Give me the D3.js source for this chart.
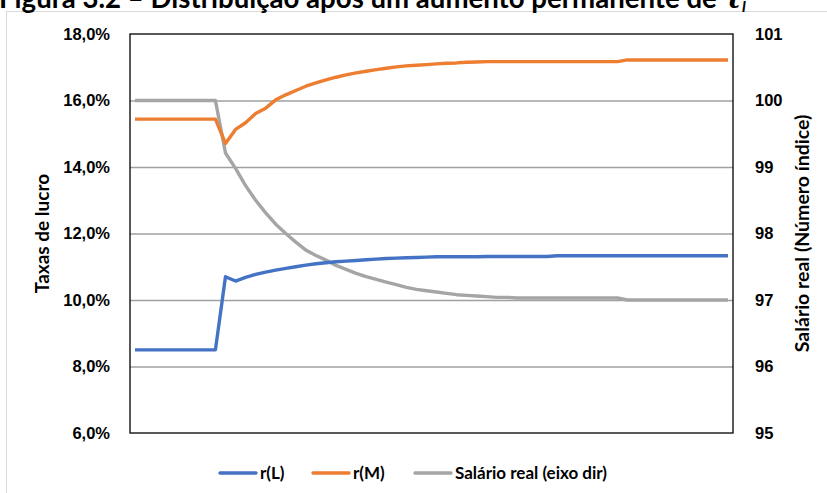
<!DOCTYPE html>
<html>
<head>
<meta charset="utf-8">
<script src="https://cdn.jsdelivr.net/npm/d3@7"></script>
<style>
  body { margin: 0; background: #fff; }
  svg { display: block; font-family: Lato, "Open Sans", sans-serif; }
  .tick text { font-weight: bold; font-size: 16.5px; fill: #000; }
  .grid line { stroke: #a0a0a0; stroke-width: 1.3; }
  .grid path { display: none; }
  .series { fill: none; stroke-width: 3.4; stroke-linejoin: round; }
</style>
</head>
<body>
<div id="chart"></div>
<script>
// profit rates (%) and real wage index, one value per period
const rL = [8.5, 8.5, 8.5, 8.5, 8.5, 8.5, 8.5, 8.5, 8.5,
    10.70, 10.57, 10.68, 10.77, 10.84, 10.90, 10.95, 11.00, 11.05, 11.09,
    11.12, 11.15, 11.17, 11.19, 11.21, 11.23, 11.25, 11.26, 11.27, 11.28,
    11.29, 11.30, 11.30, 11.30, 11.30, 11.30, 11.31, 11.31, 11.31, 11.31,
    11.31, 11.31, 11.31, 11.33, 11.33, 11.33, 11.33, 11.33, 11.33, 11.33,
    11.33, 11.33, 11.33, 11.33, 11.33, 11.33, 11.33, 11.33, 11.33, 11.33, 11.33];
const rM = [15.44, 15.44, 15.44, 15.44, 15.44, 15.44, 15.44, 15.44, 15.44,
    14.71, 15.13, 15.33, 15.61, 15.77, 16.02, 16.17, 16.30, 16.43, 16.53,
    16.62, 16.70, 16.77, 16.83, 16.88, 16.93, 16.97, 17.01, 17.04, 17.06,
    17.08, 17.10, 17.12, 17.13, 17.15, 17.16, 17.17, 17.17, 17.17, 17.17,
    17.17, 17.17, 17.17, 17.17, 17.17, 17.17, 17.17, 17.17, 17.17, 17.17,
    17.22, 17.22, 17.22, 17.22, 17.22, 17.22, 17.22, 17.22, 17.22, 17.22, 17.22];
const wage = [100, 100, 100, 100, 100, 100, 100, 100, 100,
    99.21, 98.98, 98.72, 98.50, 98.31, 98.14, 98.00, 97.87, 97.75, 97.67,
    97.60, 97.52, 97.46, 97.40, 97.35, 97.31, 97.27, 97.23, 97.19, 97.16,
    97.14, 97.12, 97.10, 97.08, 97.07, 97.06, 97.05, 97.04, 97.04, 97.03,
    97.03, 97.03, 97.03, 97.03, 97.03, 97.03, 97.03, 97.03, 97.03, 97.03,
    97.00, 97.00, 97.00, 97.00, 97.00, 97.00, 97.00, 97.00, 97.00, 97.00, 97.00];
const periods = rL.map((d, i) => i + 1);

const leftTicks = [6, 8, 10, 12, 14, 16, 18];
const rightTicks = [95, 96, 97, 98, 99, 100, 101];

const series = [
    { name: "r(L)", values: rL, color: "#4472C4", axis: "left" },
    { name: "r(M)", values: rM, color: "#ED7D31", axis: "left" },
    { name: "Salário real (eixo dir)", values: wage, color: "#A5A5A5", axis: "right" }
];

const W = 827, H = 493;
var margin = { top: 34, right: 94, bottom: 60, left: 130 },
    width = W - margin.left - margin.right,
    height = H - margin.top - margin.bottom;

var root = d3.select("#chart").append("svg")
    .attr("width", W)
    .attr("height", H);

// outer chart frame
root.append("rect")
    .attr("x", 6.5).attr("y", 11.5)
    .attr("width", W + 10).attr("height", H + 10)
    .attr("fill", "none")
    .attr("stroke", "#d9d9d9");

// title (partly cut off at the top, as in the source)
var title = root.append("text")
    .attr("x", -1).attr("y", 8)
    .attr("font-size", "27.6px")
    .attr("font-weight", "bold");
title.append("tspan").text("Figura 3.2 – Distribuição após um aumento permanente de ");
title.append("tspan").attr("font-style", "italic").attr("font-family", "DejaVu Serif").text("τ");
title.append("tspan").attr("font-style", "italic").attr("font-size", "16px").attr("dy", 4).text("l");

var svg = root.append("g")
    .attr("transform", "translate(" + margin.left + "," + margin.top + ")");

var x = d3.scalePoint()
    .domain(periods)
    .range([0, width])
    .padding(0.5);

var yL = d3.scaleLinear().domain([6, 18]).range([height, 0]);
var yR = d3.scaleLinear().domain([95, 101]).range([height, 0]);

// gridlines
svg.append("g")
    .attr("class", "grid")
    .call(d3.axisLeft(yL).tickValues(leftTicks.slice(1, -1)).tickSize(-width).tickFormat(""));

// left axis labels
var fmt = d3.format(".1f");
svg.append("g")
    .call(d3.axisLeft(yL).tickValues(leftTicks).tickSize(0).tickPadding(20)
        .tickFormat(d => fmt(d).replace(".", ",") + "%"))
    .call(g => g.select(".domain").remove());

// right axis labels
svg.append("g")
    .attr("transform", "translate(" + width + ",0)")
    .call(d3.axisRight(yR).tickValues(rightTicks).tickSize(0).tickPadding(22)
        .tickFormat(d3.format("d")))
    .call(g => g.select(".domain").remove());

// lines
var line = function (s) {
    var yy = s.axis === "left" ? yL : yR;
    return d3.line()
        .x(function (d, i) { return x(periods[i]); })
        .y(function (d) { return yy(d); })(s.values);
};

svg.selectAll("path.series")
    .data(series.slice().reverse())
    .enter()
    .append("path")
    .attr("class", "series")
    .attr("stroke", d => d.color)
    .attr("d", line);

// plot border
svg.append("rect")
    .attr("x", 0).attr("y", 0)
    .attr("width", width).attr("height", height)
    .attr("fill", "none")
    .attr("stroke", "#000")
    .attr("stroke-width", 1.3);

// axis titles
root.append("text")
    .attr("transform", "translate(49," + (margin.top + height / 2) + ") rotate(-90)")
    .attr("text-anchor", "middle")
    .attr("font-size", "19px")
    .attr("font-weight", "bold")
    .text("Taxas de lucro");

root.append("text")
    .attr("transform", "translate(809," + (margin.top + height / 2) + ") rotate(-90)")
    .attr("text-anchor", "middle")
    .attr("font-size", "19.5px")
    .attr("font-weight", "bold")
    .text("Salário real (Número índice)");

// legend
var legendX = [220, 313, 415];
var legend = root.append("g")
    .selectAll("g")
    .data(series)
    .enter()
    .append("g")
    .attr("transform", (d, i) => "translate(" + legendX[i] + ",473)");

legend.append("line")
    .attr("x1", 0).attr("x2", 36)
    .attr("stroke", d => d.color)
    .attr("stroke-width", 3.4)
    .attr("stroke-linecap", "round");

legend.append("text")
    .attr("x", 40).attr("y", 6)
    .attr("font-size", "17px")
    .attr("font-weight", "bold")
    .text(d => d.name);
</script>
</body>
</html>
